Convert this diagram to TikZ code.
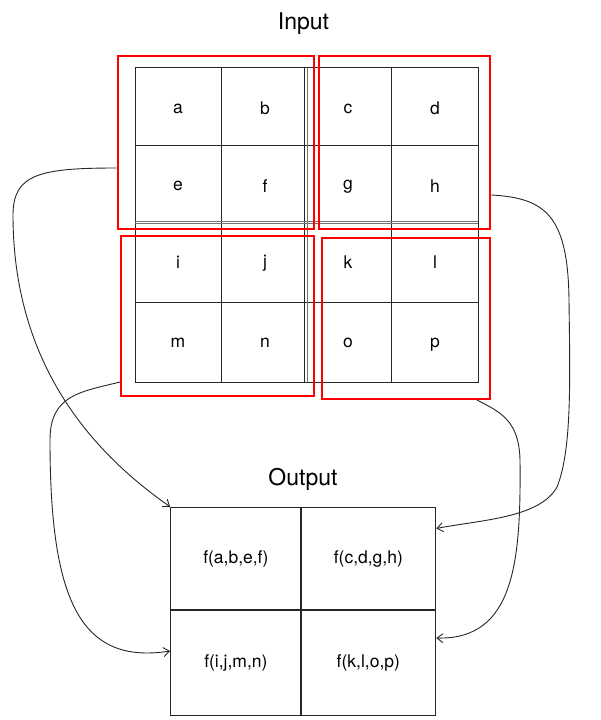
\documentclass[tikz,border=0pt]{standalone}
\usepackage{fontspec}
\setmainfont{TeX Gyre Heros}
\usetikzlibrary{arrows.meta}
\begin{document}
\begin{tikzpicture}[x=1pt,y=-1pt,
  gridline/.style={draw=black!85, line width=1pt},
  thinline/.style={draw=black!55, line width=0.8pt},
  letter/.style={font=\fontsize{17.5}{20}\selectfont, inner sep=0pt},
  title/.style={font=\fontsize{23}{26}\selectfont, anchor=base, inner sep=0pt},
  redbox/.style={draw=red, line width=2pt, inner sep=0pt, fill=none},
  outcell/.style={draw=black!85, line width=1.1pt, inner sep=0pt, font=\fontsize{17.5}{20}\selectfont},
  conn/.style={draw=black!85, line width=0.9pt, -{Straight Barb[length=6pt,width=9pt]}}
]
\useasboundingbox (0,0) rectangle (601,720);

% titles
\node[title] (tin) at (303.5,29.3) {Input};
\node[title] (tout) at (303,485.7) {Output};

% input grid
\draw[gridline] (135,67.7) rectangle (478.3,382.3);
\foreach \xx in {221,391.7}{\draw[gridline] (\xx,67.7) -- (\xx,382.3);}
\foreach \yy in {145,302.3}{\draw[gridline] (135,\yy) -- (478.3,\yy);}
\draw[gridline] (304.8,67.7) -- (304.8,382.3);
\draw[thinline] (306.9,67.7) -- (306.9,382.3);
\draw[thinline] (135,220.9) -- (478.3,220.9);
\draw[thinline] (135,222.9) -- (478.3,222.9);

% letters
\node[letter] (la) at (178,108.7) {a};
\node[letter] (lb) at (265,108.7) {b};
\node[letter] (lc) at (348,108.7) {c};
\node[letter] (ld) at (435,108.7) {d};
\node[letter] (le) at (178,185.7) {e};
\node[letter] (lf) at (265,185.7) {f};
\node[letter] (lg) at (348,187) {g};
\node[letter] (lh) at (435,185.7) {h};
\node[letter] (li) at (178,262.3) {i};
\node[letter] (lj) at (265,263.5) {j};
\node[letter] (lk) at (348,262.3) {k};
\node[letter] (ll) at (435,262.3) {l};
\node[letter] (lm) at (178,343) {m};
\node[letter] (ln) at (265,343) {n};
\node[letter] (lo) at (348,343) {o};
\node[letter] (lp) at (435,344.5) {p};

% red groups
\node[redbox, minimum width=196pt, minimum height=173.3pt] (g1) at (215.7,142.35) {};
\node[redbox, minimum width=171.3pt, minimum height=173.3pt] (g2) at (404.65,142.35) {};
\node[redbox, minimum width=192.7pt, minimum height=160pt] (g3) at (217.35,315.7) {};
\node[redbox, minimum width=168pt, minimum height=160.7pt] (g4) at (406.3,318.65) {};

% output grid
\node[outcell, minimum width=130.3pt, minimum height=102.7pt] (o1) at (235.85,558.65) {f(a,b,e,f)};
\node[outcell, minimum width=134.7pt, minimum height=102.7pt] (o2) at (368.35,558.65) {f(c,d,g,h)};
\node[outcell, minimum width=130.3pt, minimum height=105.7pt] (o3) at (235.85,662.85) {f(i,j,m,n)};
\node[outcell, minimum width=134.7pt, minimum height=105.7pt] (o4) at (368.35,662.85) {f(k,l,o,p)};

% connectors
\draw[conn] ([yshift=-25.65pt]g1.west) .. controls (40,168) and (13,174) .. (13,215)
  .. controls (13,330) and (60,430) .. (o1.north west);
\draw[conn] ([yshift=-66.3pt]g3.east -| g3.west) .. controls (80,392) and (50,395) .. (50,440)
  .. controls (50,600) and (80,665) .. ([yshift=11.85pt]o3.west);
\draw[conn] ([yshift=-52.65pt]g2.east) .. controls (545,198) and (568,215) .. (569,300)
  .. controls (570,380) and (572,450) .. (557,487)
  .. controls (540,518) and (480,520) .. ([yshift=30.15pt]o2.east);
\draw[conn] ([xshift=70.7pt]g4.south) .. controls (500,412) and (519,420) .. (520,460)
  .. controls (521,560) and (515,640) .. ([yshift=24.85pt]o4.east);
\end{tikzpicture}
\end{document}
